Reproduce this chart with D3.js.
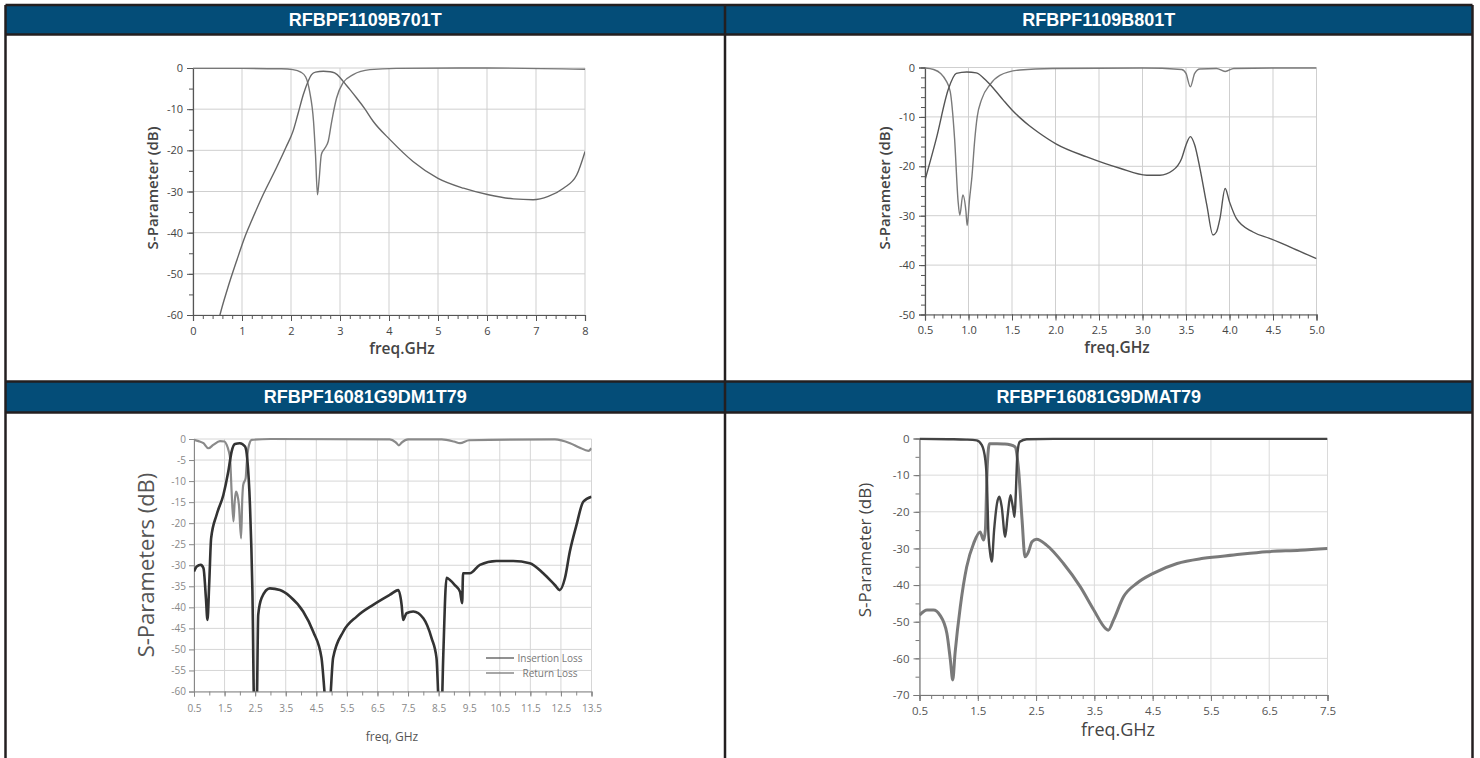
<!DOCTYPE html>
<html><head><meta charset="utf-8">
<script src="https://cdn.jsdelivr.net/npm/d3@7"></script>
<style>body{margin:0;background:#fff;}svg{display:block;}</style>
</head><body><svg id="c" width="1480" height="758"></svg>
<script>
// ---------- titles ----------
const titles = ["RFBPF1109B701T", "RFBPF1109B801T", "RFBPF16081G9DM1T79", "RFBPF16081G9DMAT79"];

// ---------- panel 1: RFBPF1109B701T ----------
const p1S21Freq = [0.5,0.55,0.7,0.9,1.06,1.2,1.43,1.70,1.9,2.04,2.15,2.25,2.35,2.42,2.5,2.66,2.8,2.89,3.0,3.06,3.2,3.34,3.5,3.68,4.02,4.49,5.0,5.52,6.03,6.54,6.94,7.25,7.56,7.83,8.0];
const p1S21dB   = [-62.5,-60,-53.8,-46.5,-41,-37,-30.8,-24.3,-19.2,-15.4,-10.8,-6.5,-3.2,-1.6,-1.0,-0.8,-0.9,-1.2,-2.3,-3.2,-5.2,-7.3,-9.8,-13,-17.4,-22.7,-26.8,-29.2,-30.8,-31.8,-32,-31.2,-29.2,-26,-20.3];
const p1S11Freq = [0,1,1.8,2.04,2.2,2.3,2.38,2.46,2.5,2.54,2.57,2.62,2.69,2.76,2.83,2.93,3.06,3.27,3.61,4.15,6,8];
const p1S11dB   = [-0.1,-0.1,-0.2,-0.4,-1.0,-2.2,-5.7,-13,-21,-30.8,-27.6,-21,-19.5,-17.8,-13,-7.3,-3.6,-1.6,-0.4,-0.1,0,-0.3];
const p1XTicks = [0,1,2,3,4,5,6,7,8];
const p1YTicks = [0,-10,-20,-30,-40,-50,-60];

// ---------- panel 2: RFBPF1109B801T ----------
const p2S21Freq = [0.5,0.63,0.77,0.86,0.98,1.09,1.2,1.3,1.4,1.5,1.6,1.7,1.8,2.01,2.36,2.74,3.05,3.2,3.35,3.45,3.5,3.55,3.6,3.66,3.74,3.81,3.85,3.89,3.95,4.0,4.08,4.27,4.46,4.73,5.0];
const p2S21dB   = [-22.8,-14.4,-4.3,-1.2,-0.9,-1.1,-2.6,-4.5,-6.6,-8.6,-10.3,-11.8,-13.1,-15.5,-18.1,-20.4,-21.8,-21.8,-20.8,-18.4,-15.7,-14,-15.7,-20.4,-27.9,-33.9,-33.3,-30.6,-24.5,-27.2,-30.6,-33.3,-34.6,-36.6,-38.7];
const p2S11Freq = [0.5,0.6,0.68,0.74,0.79,0.84,0.88,0.9,0.935,0.97,0.985,1.01,1.04,1.07,1.1,1.15,1.25,1.36,1.59,1.97,3.0,3.45,3.5,3.55,3.6,3.66,3.85,3.95,4.05,4.5,5.0];
const p2S11dB   = [-0.1,-0.4,-1.2,-2.6,-4.9,-14.4,-27,-29.9,-25.8,-29,-32,-27,-22,-15,-10,-6.5,-3.4,-1.6,-0.5,-0.2,-0.1,-0.4,-1.2,-3.9,-1.2,-0.3,-0.2,-0.8,-0.2,-0.1,-0.1];
const p2XTicks = [0.5,1.0,1.5,2.0,2.5,3.0,3.5,4.0,4.5,5.0];
const p2YTicks = [0,-10,-20,-30,-40,-50];

// ---------- panel 3: RFBPF16081G9DM1T79 ----------
const p3ILFreq = [0.5,0.59,0.72,0.81,0.89,0.94,1.0,1.06,1.24,1.46,1.62,1.73,1.84,2.0,2.17,2.24,2.33,2.41,2.47,2.55,2.6,2.71,2.98,3.31,3.64,4.07,4.4,4.67,4.84,4.92,5.05,5.38,5.82,6.36,6.91,7.18,7.29,7.34,7.45,7.67,8.0,8.27,8.43,8.52,8.6,8.65,8.76,8.87,9.03,9.2,9.27,9.3,9.52,9.85,10.39,10.94,11.48,11.92,12.3,12.46,12.63,12.79,13.01,13.23,13.5];
const p3ILdB   = [-31.5,-30.3,-29.9,-30.7,-37.8,-43,-33.9,-23.6,-18,-13.3,-7.8,-3,-1.2,-1,-1.8,-4.6,-15.7,-36,-64,-64,-41.8,-37.8,-35.5,-35.9,-37.4,-41,-45.8,-52,-64,-64,-52,-45.8,-42.2,-39.4,-37,-35.9,-39.4,-43,-41.4,-41,-42.6,-47.3,-52,-64,-64,-52,-33,-33.5,-34.7,-36.3,-39,-31.9,-31.9,-29.9,-29,-29,-29.5,-31.9,-34.7,-35.9,-33.1,-26.8,-20.4,-14.9,-13.7];
const p3RLFreq = [0.5,0.65,0.81,0.97,1.13,1.35,1.5,1.57,1.64,1.68,1.73,1.79,1.83,1.87,1.92,1.97,2.04,2.08,2.11,2.19,2.22,2.26,2.3,2.39,3,6.9,7.1,7.2,7.3,7.5,8.6,9.0,9.2,9.5,12.3,12.8,13.1,13.4,13.5];
const p3RLdB   = [-0.2,-0.5,-1.0,-2.2,-1.4,-0.5,-0.6,-1.4,-3,-4.6,-12.5,-19.6,-15,-12.5,-13.3,-15.7,-23.6,-14,-10.9,-9.3,-6.2,-3,-1.4,-0.2,0,-0.1,-0.8,-1.5,-0.8,-0.1,-0.1,-0.6,-1.0,-0.3,-0.1,-1,-2,-2.8,-2.2];
const p3XTicks = [0.5,1.5,2.5,3.5,4.5,5.5,6.5,7.5,8.5,9.5,10.5,11.5,12.5,13.5];
const p3YTicks = [0,-5,-10,-15,-20,-25,-30,-35,-40,-45,-50,-55,-60];
const p3Legend = ["Insertion Loss", "Return Loss"];

// ---------- panel 4: RFBPF16081G9DMAT79 ----------
const p4S21Freq = [0.5,0.63,0.74,0.85,0.97,1.03,1.07,1.11,1.2,1.31,1.43,1.54,1.6,1.63,1.66,1.7,1.83,1.94,2.05,2.14,2.2,2.26,2.31,2.37,2.43,2.51,2.68,2.97,3.26,3.49,3.69,3.74,3.83,4.0,4.23,4.51,4.92,5.37,5.89,6.46,7.03,7.5];
const p4S21dB   = [-48.2,-46.8,-46.8,-48.2,-53.2,-60.5,-65.9,-58.6,-45.9,-35,-28.6,-25.5,-27.7,-25,-8.6,-1.4,-1.4,-1.5,-1.7,-2.3,-8.6,-22.3,-32.3,-30.9,-28.2,-27.5,-29.1,-34.1,-40.5,-46.8,-51.8,-52.3,-49.5,-43.2,-39.5,-36.8,-34.1,-32.7,-31.8,-30.9,-30.5,-30];
const p4S11Freq = [0.5,1.0,1.3,1.48,1.57,1.63,1.66,1.68,1.71,1.74,1.78,1.83,1.87,1.91,1.97,2.01,2.06,2.08,2.11,2.13,2.15,2.18,2.22,2.34,2.8,7.5];
const p4S11dB   = [-0.1,-0.2,-0.3,-0.5,-1.8,-5.9,-13.2,-25,-31,-33.6,-25,-17.7,-15.9,-18.6,-26.8,-21.4,-15.5,-16.8,-19.5,-21.4,-15.9,-4.1,-0.9,-0.2,-0.1,-0.1];
const p4XTicks = [0.5,1.5,2.5,3.5,4.5,5.5,6.5,7.5];
const p4YTicks = [0,-10,-20,-30,-40,-50,-60,-70];

// ---------- helpers ----------
const svg = d3.select("#c");
const FONT = "'Open Sans', 'DejaVu Sans', sans-serif";
const zip = (f, v) => f.map((x, i) => [x, v[i]]);
const range = (a, b, s) => { const r = []; for (let v = a; v <= b + 1e-9; v += s) r.push(+v.toFixed(4)); return r; };

// ---------- table frame ----------
const T = {l: 5.5, r: 1472.5, mid: 725, top: 5, h1b: 34.5, h2t: 381.5, h2b: 412.5, bot: 758};
svg.append("rect").attr("x", T.l).attr("y", T.top).attr("width", T.r - T.l).attr("height", T.h1b - T.top).attr("fill", "#044d78");
svg.append("rect").attr("x", T.l).attr("y", T.h2t).attr("width", T.r - T.l).attr("height", T.h2b - T.h2t).attr("fill", "#044d78");
const border = "#231f20";
[[T.l, T.top, T.r, T.top], [T.l, T.h1b, T.r, T.h1b], [T.l, T.h2t, T.r, T.h2t], [T.l, T.h2b, T.r, T.h2b],
 [T.l, T.top, T.l, T.bot], [T.r, T.top, T.r, T.bot], [T.mid, T.top, T.mid, T.bot]].forEach(s => {
  svg.append("line").attr("x1", s[0]).attr("y1", s[1]).attr("x2", s[2]).attr("y2", s[3])
    .attr("stroke", border).attr("stroke-width", 2.5);
});
const hdrPos = [[(T.l + T.mid) / 2, 20], [(T.mid + T.r) / 2, 20], [(T.l + T.mid) / 2, 397], [(T.mid + T.r) / 2, 397]];
titles.forEach((t, i) => {
  svg.append("text").attr("x", hdrPos[i][0]).attr("y", hdrPos[i][1]).attr("dy", "0.36em")
    .attr("text-anchor", "middle").attr("fill", "#fff")
    .attr("font-family", "'Liberation Sans', Arial, sans-serif").attr("font-weight", "bold").attr("font-size", 18)
    .text(t);
});

// ---------- generic panel ----------
let clipId = 0;
function panel(c) {
  const g = svg.append("g");
  const x = d3.scaleLinear().domain(c.xDomain).range([c.xl, c.xr]);
  const y = d3.scaleLinear().domain(c.yDomain).range([c.yt, c.yb]);
  c.xGrid.forEach(v => g.append("line").attr("x1", x(v)).attr("x2", x(v)).attr("y1", c.yt).attr("y2", c.yb)
    .attr("stroke", c.gridColor).attr("stroke-width", 1));
  c.yGrid.forEach(v => g.append("line").attr("x1", c.xl).attr("x2", c.xr).attr("y1", y(v)).attr("y2", y(v))
    .attr("stroke", c.gridColor).attr("stroke-width", 1));
  const mx = g.append("g").attr("transform", `translate(0,${c.yb})`)
    .call(d3.axisBottom(x).tickValues(c.xMinor).tickSize(c.minorLen).tickFormat(""));
  const my = g.append("g").attr("transform", `translate(${c.xl},0)`)
    .call(d3.axisLeft(y).tickValues(c.yMinor).tickSize(c.minorLen).tickFormat(""));
  [mx, my].forEach(a => { a.select(".domain").remove(); a.selectAll("line").attr("stroke", c.axisColor); });
  const ax = g.append("g").attr("transform", `translate(0,${c.yb})`)
    .call(d3.axisBottom(x).tickValues(c.xTicks).tickSize(c.majorLen).tickPadding(c.xPad).tickFormat(c.xFmt));
  const ay = g.append("g").attr("transform", `translate(${c.xl},0)`)
    .call(d3.axisLeft(y).tickValues(c.yTicks).tickSize(c.majorLen).tickPadding(c.yPad).tickFormat(d => String(d)));
  [ax, ay].forEach(a => {
    a.select(".domain").attr("stroke", c.axisColor).attr("stroke-width", c.axisWidth);
    a.selectAll("line").attr("stroke", c.axisColor);
    a.selectAll("text").attr("fill", c.tickColor).attr("font-family", FONT).attr("font-size", c.tickSize);
  });
  const id = "clip" + (clipId++);
  svg.append("defs").append("clipPath").attr("id", id).append("rect")
    .attr("x", c.xl).attr("y", c.yt - 3).attr("width", c.xr - c.xl).attr("height", c.yb - c.yt + 3);
  const line = d3.line().x(d => x(d[0])).y(d => y(d[1])).curve(d3.curveMonotoneX);
  const sg = g.append("g").attr("clip-path", `url(#${id})`);
  c.series.forEach(s => {
    sg.append("path").datum(s.data).attr("d", line).attr("fill", "none")
      .attr("stroke", s.color).attr("stroke-width", s.width).attr("stroke-linejoin", "round");
  });
  g.append("text").attr("transform", `translate(${c.yLab[0]},${c.yLab[1]}) rotate(-90)`)
    .attr("text-anchor", "middle").attr("dy", "0.35em").attr("font-family", FONT)
    .attr("font-size", c.yLabSize).attr("font-weight", c.labWeight).attr("fill", c.labColor).text(c.yLabel);
  g.append("text").attr("x", c.xLab[0]).attr("y", c.xLab[1]).attr("text-anchor", "middle").attr("dy", "0.35em")
    .attr("font-family", FONT).attr("font-size", c.xLabSize).attr("font-weight", c.labWeight)
    .attr("fill", c.labColor).text(c.xLabel);
  return {g, x, y};
}

// ---------- panel 1 ----------
panel({
  xDomain: [0, 8], xl: 193, xr: 585, yDomain: [0, -60], yt: 68, yb: 315,
  xTicks: p1XTicks, yTicks: p1YTicks, xMinor: range(0, 8, 0.2), yMinor: range(-60, 0, 5),
  xGrid: p1XTicks, yGrid: p1YTicks, xFmt: d => String(d),
  gridColor: "#cfcfcf", axisColor: "#555", axisWidth: 1.2, tickColor: "#444", tickSize: 11,
  majorLen: 6, minorLen: 4, xPad: 6, yPad: 4,
  yLabel: "S-Parameter (dB)", yLab: [153, 188], yLabSize: 15,
  xLabel: "freq.GHz", xLab: [402, 349], xLabSize: 15.5, labWeight: 600, labColor: "#444",
  series: [
    {data: zip(p1S11Freq, p1S11dB), color: "#777", width: 1.4},
    {data: zip(p1S21Freq, p1S21dB), color: "#666", width: 1.4}
  ]
});

// ---------- panel 2 ----------
panel({
  xDomain: [0.5, 5.0], xl: 925, xr: 1316.5, yDomain: [0, -50], yt: 67.5, yb: 314.5,
  xTicks: p2XTicks, yTicks: p2YTicks, xMinor: range(0.5, 5.0, 0.1), yMinor: range(-50, 0, 2),
  xGrid: p2XTicks, yGrid: p2YTicks, xFmt: d => d.toFixed(1),
  gridColor: "#cfcfcf", axisColor: "#555", axisWidth: 1.2, tickColor: "#444", tickSize: 11,
  majorLen: 6, minorLen: 4, xPad: 6, yPad: 4,
  yLabel: "S-Parameter (dB)", yLab: [885, 188], yLabSize: 15,
  xLabel: "freq.GHz", xLab: [1117, 348], xLabSize: 15.5, labWeight: 600, labColor: "#444",
  series: [
    {data: zip(p2S11Freq, p2S11dB), color: "#7a7a7a", width: 1.4},
    {data: zip(p2S21Freq, p2S21dB), color: "#555", width: 1.4}
  ]
});

// ---------- panel 3 ----------
const P3 = panel({
  xDomain: [0.5, 13.5], xl: 194, xr: 591.5, yDomain: [0, -60], yt: 439, yb: 691.5,
  xTicks: p3XTicks, yTicks: p3YTicks, xMinor: range(0.5, 13.5, 0.5), yMinor: [],
  xGrid: p3XTicks, yGrid: p3YTicks, xFmt: d => String(d),
  gridColor: "#d6d6d6", axisColor: "#888", axisWidth: 1, tickColor: "#888", tickSize: 10,
  majorLen: 5, minorLen: 4, xPad: 8, yPad: 3,
  yLabel: "S-Parameters (dB)", yLab: [146, 565], yLabSize: 22,
  xLabel: "freq, GHz", xLab: [392, 737], xLabSize: 12, labWeight: 400, labColor: "#555",
  series: [
    {data: zip(p3RLFreq, p3RLdB), color: "#8a8a8a", width: 2.2},
    {data: zip(p3ILFreq, p3ILdB), color: "#333", width: 2.6}
  ]
});
const legY = [658, 673];
const legColor = ["#555", "#777"];
p3Legend.forEach((t, i) => {
  P3.g.append("line").attr("x1", 486).attr("x2", 514).attr("y1", legY[i]).attr("y2", legY[i])
    .attr("stroke", legColor[i]).attr("stroke-width", 1.3);
  P3.g.append("text").attr("x", 550).attr("y", legY[i]).attr("dy", "0.35em").attr("text-anchor", "middle")
    .attr("font-family", FONT).attr("font-size", 10).attr("fill", "#777").text(t);
});

// ---------- panel 4 ----------
panel({
  xDomain: [0.5, 7.5], xl: 919.5, xr: 1327.5, yDomain: [0, -70], yt: 438.5, yb: 695,
  xTicks: p4XTicks, yTicks: p4YTicks, xMinor: range(0.5, 7.5, 0.2), yMinor: range(-70, 0, 5),
  xGrid: p4XTicks, yGrid: p4YTicks, xFmt: d => String(d),
  gridColor: "#dadada", axisColor: "#777", axisWidth: 1.2, tickColor: "#555", tickSize: 11.5,
  majorLen: 6, minorLen: 4, xPad: 6, yPad: 4,
  yLabel: "S-Parameter (dB)", yLab: [865, 550], yLabSize: 17,
  xLabel: "freq.GHz", xLab: [1118, 730], xLabSize: 18, labWeight: 400, labColor: "#444",
  series: [
    {data: zip(p4S21Freq, p4S21dB), color: "#7a7a7a", width: 3},
    {data: zip(p4S11Freq, p4S11dB), color: "#444", width: 2.4}
  ]
});
</script></body></html>
